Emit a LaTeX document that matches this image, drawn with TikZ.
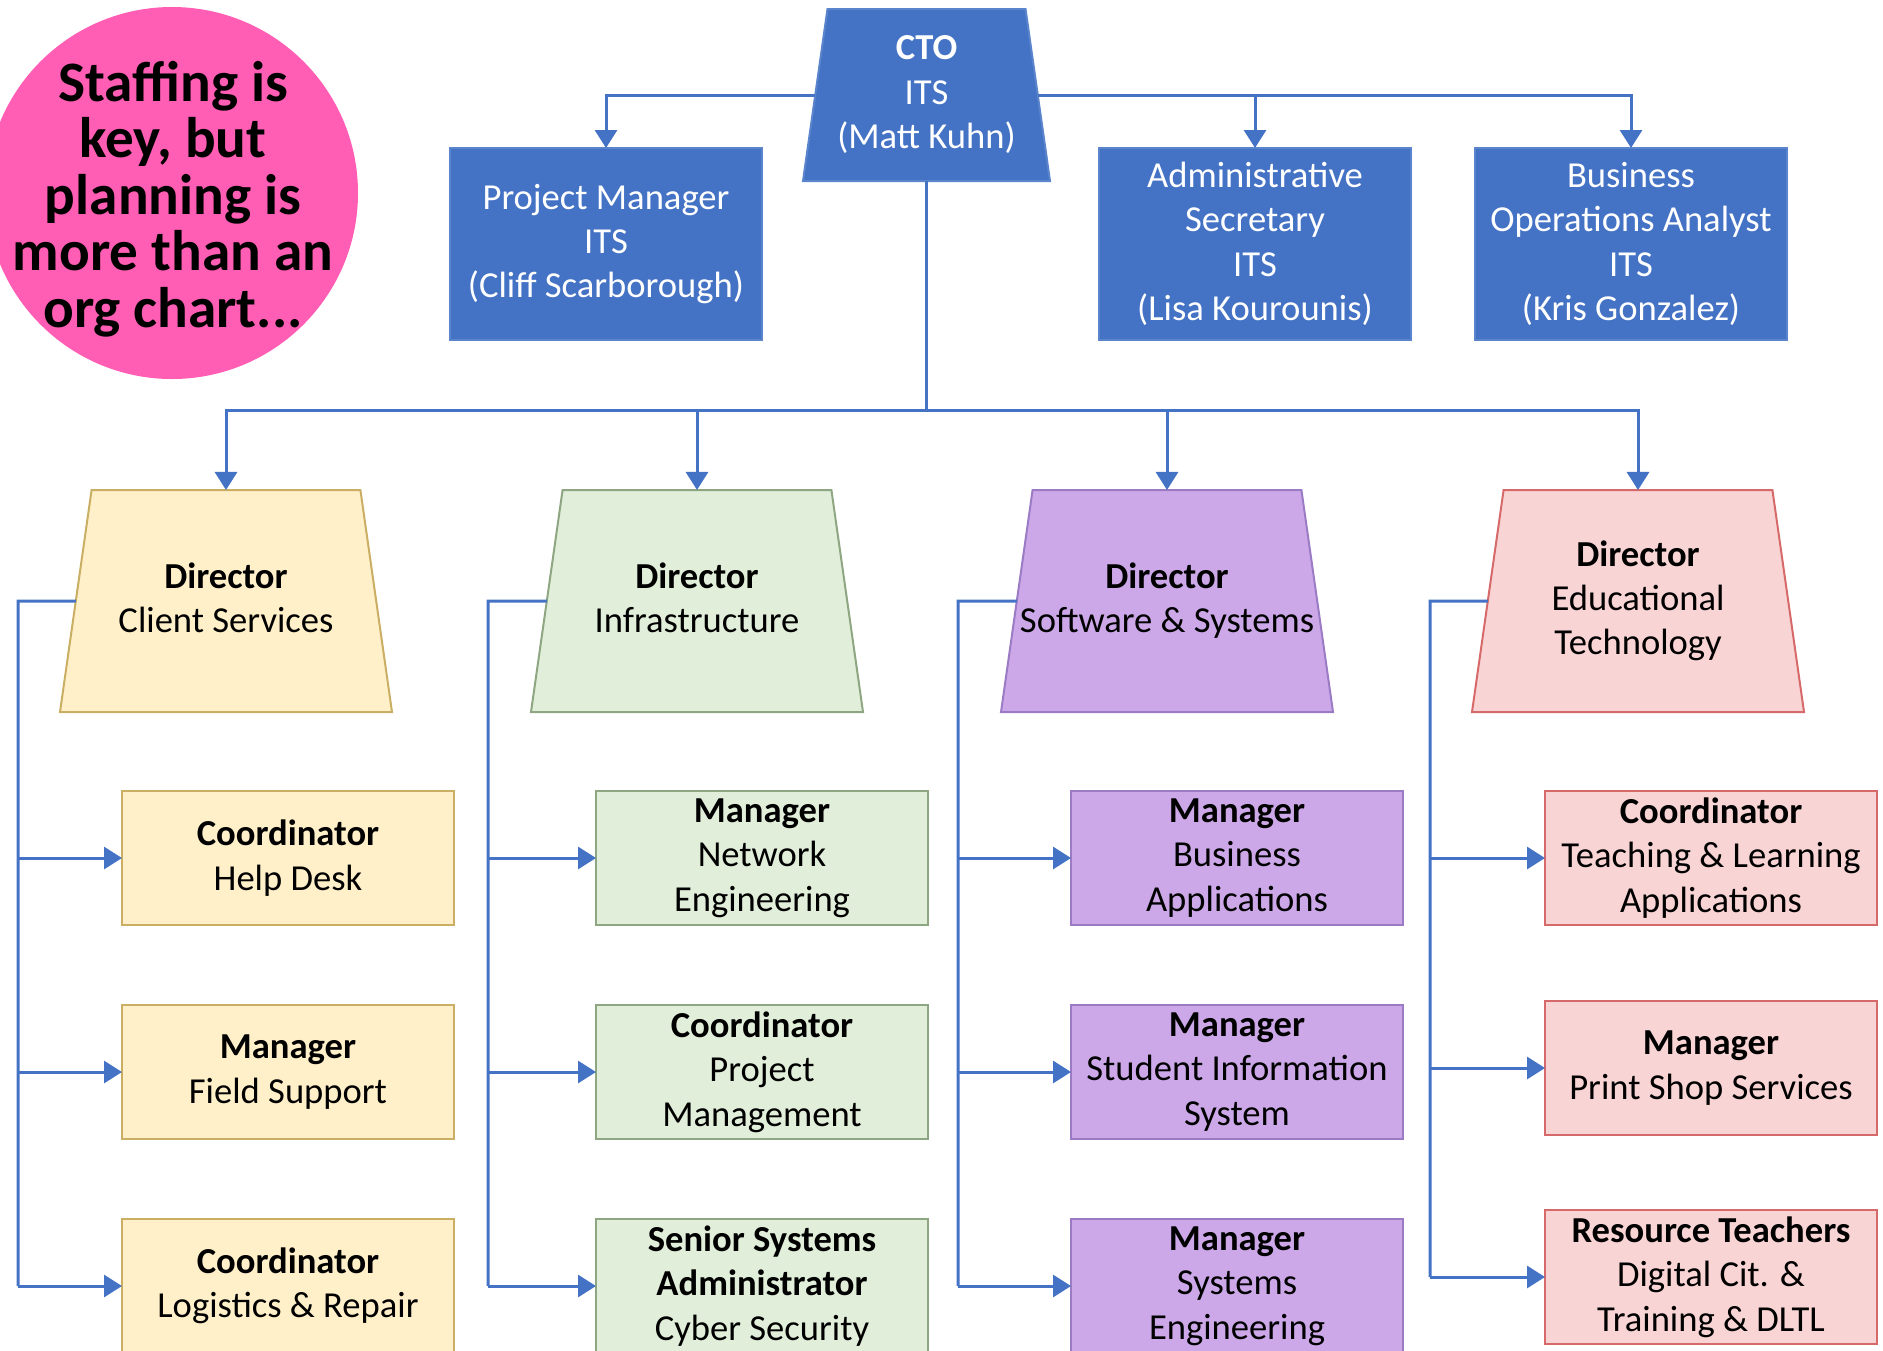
\documentclass[tikz,border=0pt]{standalone}
\usepackage{fontspec}
\setmainfont{Carlito}
\usetikzlibrary{shapes.geometric,arrows.meta}

\definecolor{itsblue}{HTML}{4472C4}
\definecolor{itsedge}{HTML}{5A84CC}
\definecolor{hotpink}{HTML}{FF5EB4}
\definecolor{cliF}{HTML}{FFF0C9}
\definecolor{cliD}{HTML}{C9AE63}
\definecolor{infF}{HTML}{E1EED9}
\definecolor{infD}{HTML}{8FA682}
\definecolor{swF}{HTML}{CCA8E8}
\definecolor{swD}{HTML}{9B7BC4}
\definecolor{edF}{HTML}{F9D4D4}
\definecolor{edD}{HTML}{D66A6A}

% centred stack of lines with no width of its own and a fixed total height (#1)
\newcommand{\ctrstack}[2]{\makebox[0pt]{\rule[\dimexpr 0.25em-#1/2\relax]{0pt}{#1}\begin{tabular}{@{}c@{}}#2\end{tabular}}}

\begin{document}
\begin{tikzpicture}[x=0.5pt,y=-0.5pt,
  every node/.style={font=\fontsize{18.3}{22.2}\selectfont},
  trap/.style={trapezium, trapezium left angle=81.9, trapezium right angle=81.9,
    trapezium stretches body, inner sep=0pt, outer sep=0pt, line width=1pt},
  ctobox/.style={trap, fill=itsblue, draw=itsedge, text=white,
    minimum width=123.5pt, minimum height=86pt},
  dirbox/.style={trap, minimum width=166pt, minimum height=111pt},
  topbox/.style={rectangle, fill=itsblue, draw=itsedge, line width=1pt, text=white,
    minimum width=156pt, minimum height=96pt, inner sep=0pt, outer sep=0pt, align=center},
  unitbox/.style={rectangle, line width=1pt, minimum width=166pt, minimum height=67pt,
    inner sep=0pt, outer sep=0pt, align=center},
  cli/.style={fill=cliF, draw=cliD},
  inf/.style={fill=infF, draw=infD},
  sw/.style={fill=swF, draw=swD},
  ed/.style={fill=edF, draw=edD},
  wire/.style={draw=itsblue, line width=1.5pt},
  feed/.style={wire, -{Triangle[width=11pt,length=9pt]}}
]
\useasboundingbox (0,0) rectangle (1883,1350);
\clip (0,0) rectangle (1883,1350);

% note bubble
\node[circle, fill=hotpink, minimum size=186pt, inner sep=0pt] (note) at (172,193) {};
\node[font=\fontsize{28.6}{28.3}\selectfont\bfseries, align=center, inner sep=0pt]
  (notetext) at (173,199) {Staffing is\\ key, but\\ planning is\\ more than an\\ org chart...};

% top level
\node[ctobox] (cto) at (926.5,95) {\ctrstack{86pt}{\textbf{CTO}\\ ITS\\ (Matt Kuhn)}};
\node[topbox] (pm)  at (606,244)  {Project Manager\\ ITS\\ (Cliff Scarborough)};
\node[topbox] (adm) at (1255,244) {Administrative\\ Secretary\\ ITS\\ (Lisa Kourounis)};
\node[topbox] (boa) at (1631,244) {Business\\ Operations Analyst\\ ITS\\ (Kris Gonzalez)};

% directors
\node[dirbox, cli] (d1) at (226,601)  {\ctrstack{111pt}{\textbf{Director}\\ Client Services}};
\node[dirbox, inf] (d2) at (697,601)  {\ctrstack{111pt}{\textbf{Director}\\ Infrastructure}};
\node[dirbox, sw]  (d3) at (1167,601) {\ctrstack{111pt}{\textbf{Director}\\ Software \& Systems}};
\node[dirbox, ed]  (d4) at (1638,601) {\ctrstack{111pt}{\textbf{Director}\\ Educational\\ Technology}};

% units
\node[unitbox, cli] (c11) at (288,858)  {\textbf{Coordinator}\\ Help Desk};
\node[unitbox, cli] (c12) at (288,1072) {\textbf{Manager}\\ Field Support};
\node[unitbox, cli] (c13) at (288,1286) {\textbf{Coordinator}\\ Logistics \& Repair};

\node[unitbox, inf] (c21) at (762,858)  {\textbf{Manager}\\ Network\\ Engineering};
\node[unitbox, inf] (c22) at (762,1072) {\textbf{Coordinator}\\ Project\\ Management};
\node[unitbox, inf] (c23) at (762,1286) {\textbf{Senior Systems}\\ \textbf{Administrator}\\ Cyber Security};

\node[unitbox, sw] (c31) at (1237,858)  {\textbf{Manager}\\ Business\\ Applications};
\node[unitbox, sw] (c32) at (1237,1072) {\textbf{Manager}\\ Student Information\\ System};
\node[unitbox, sw] (c33) at (1237,1286) {\textbf{Manager}\\ Systems\\ Engineering};

\node[unitbox, ed] (c41) at (1711,858)  {\textbf{Coordinator}\\ Teaching \& Learning\\ Applications};
\node[unitbox, ed] (c42) at (1711,1068) {\textbf{Manager}\\ Print Shop Services};
\node[unitbox, ed] (c43) at (1711,1277) {\textbf{Resource Teachers}\\ Digital Cit. \&\\ Training \& DLTL};

% CTO staff
\draw[feed] (cto.west) -| (pm.north);
\draw[feed] (cto.east) -| (adm.north);
\draw[feed] (cto.east) -| (boa.north);

% CTO to directors
\coordinate (bus) at (926.5,410);
\draw[wire] (cto.south) -- (bus);
\foreach \d in {d1,d2,d3,d4} \draw[feed] (bus) -| (\d.north);

% directors to units
\coordinate (b1) at (18,601);
\coordinate (b2) at (488,601);
\coordinate (b3) at (958,601);
\coordinate (b4) at (1430,601);
\foreach \i in {1,2,3,4} {
  \draw[wire] (d\i.west) -- (b\i) -- (b\i |- c\i3.west);
  \foreach \j in {1,2,3} \draw[feed] (b\i |- c\i\j.west) -- (c\i\j.west);
}
\end{tikzpicture}
\end{document}
